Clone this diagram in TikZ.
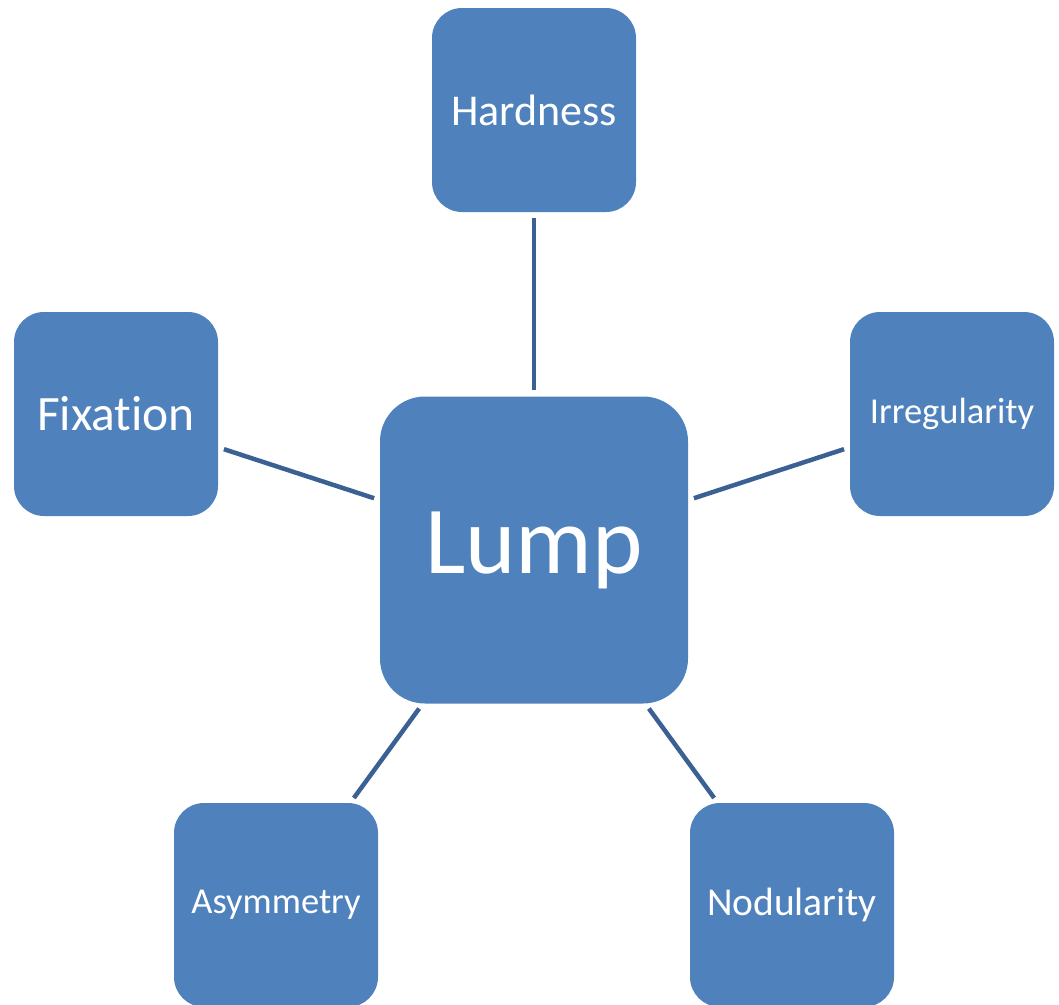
\documentclass[tikz,border=0pt]{standalone}
\usepackage{fontspec}
\setmainfont{Carlito}[Ligatures=NoCommon]
\definecolor{boxblue}{HTML}{4F81BD}
\definecolor{linkblue}{HTML}{3B6194}
\tikzset{
  leaf/.style={fill=boxblue, text=white, rounded corners=30pt, minimum width=204pt, minimum height=204pt, inner sep=0pt},
  hub/.style={leaf, rounded corners=45pt, minimum width=308pt, minimum height=307pt},
  link/.style={draw=linkblue, line width=4.5pt, shorten >=6pt, shorten <=6pt}
}
\begin{document}
\begin{tikzpicture}[x=1pt, y=-1pt]
  \useasboundingbox (0,0) rectangle (1059,1004);

  % centre box
  \node[hub, font=\fontsize{96}{100}\selectfont] (lump) at (534,550) {Lump};

  % satellites
  \node[leaf, font=\fontsize{44}{48}\selectfont] (hardness) at (534,110) {Hardness};
  \node[leaf, font=\fontsize{49.5}{52}\selectfont] (fixation) at (116,414) {Fixation};
  \node[leaf, font=\fontsize{36.5}{40}\selectfont] (irregularity) at (952,414) {Irregularity};
  \node[leaf, font=\fontsize{36.5}{40}\selectfont] (asymmetry) at (276,905) {Asymmetry};
  \node[leaf, font=\fontsize{39.5}{43}\selectfont] (nodularity) at (792,905) {Nodularity};

  % spokes
  \draw[link] (hardness) -- (lump);
  \draw[link] (fixation) -- (lump);
  \draw[link] (irregularity) -- (lump);
  \draw[link] (asymmetry) -- (lump);
  \draw[link] (nodularity) -- (lump);
\end{tikzpicture}
\end{document}
